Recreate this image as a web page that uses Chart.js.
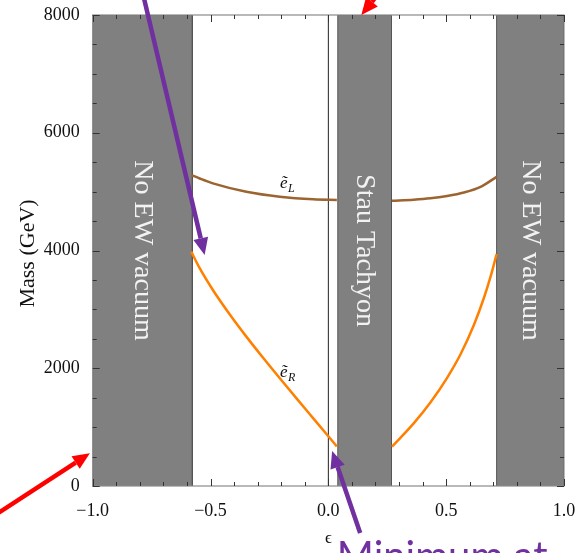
<!DOCTYPE html>
<html>
<head>
<meta charset="utf-8">
<script src="https://cdn.jsdelivr.net/npm/chart.js@4.4.1/dist/chart.umd.min.js"></script>
<style>
  html, body { margin: 0; padding: 0; background: #fff; }
  #wrap { width: 575px; height: 553px; }
</style>
</head>
<body>
<div id="wrap"><canvas id="massChart" width="575" height="553"></canvas></div>
<script>
// tick labels
const epsTicks = [-1, -0.5, 0, 0.5, 1];
const massTicks = [0, 2000, 4000, 6000, 8000];

// selectron masses (GeV) against epsilon, left and right of the tachyon band
const eLLeftEps  = [-0.582, -0.546, -0.49, -0.348, -0.206, -0.064, 0.036];
const eLLeftMass = [5282, 5223, 5141, 4999, 4914, 4869, 4858];
const eLRightEps  = [0.27, 0.362, 0.433, 0.504, 0.575, 0.646, 0.714];
const eLRightMass = [4846, 4863, 4886, 4926, 4985, 5081, 5251];

const eRLeftEps  = [-0.582, -0.546, -0.49, -0.419, -0.348, -0.277, -0.206, -0.135, -0.064, 0, 0.036];
const eRLeftMass = [3980, 3699, 3329, 2917, 2537, 2178, 1830, 1488, 1149, 844, 673];
const eRRightEps  = [0.27, 0.362, 0.433, 0.504, 0.561, 0.618, 0.66, 0.689, 0.714];
const eRRightMass = [668, 1064, 1419, 1838, 2237, 2739, 3193, 3564, 3939];

// excluded bands in epsilon
const bandFrom = [-1, 0.04, 0.714];
const bandTo   = [-0.577, 0.268, 1];
const bandText = ['No EW vacuum', 'Stau Tachyon', 'No EW vacuum'];
const bandTextMass = [4000, 4000, 4000];

// curve labels
const curveLabelEps  = [-0.163, -0.163];
const curveLabelMass = [5150, 1940];
const curveLabelSub  = ['L', 'R'];

// callout arrows [tailEps, tailMass, tipEps, tipMass]
const purpleArrows = [[-0.801, 8600, -0.525, 3925], [0.135, -800, 0.016, 595]];
const redArrows = [[-1.42, -510, -1.012, 556], [0.27, 8650, 0.14, 8000]];
const calloutEps = 0.036, calloutMass = -1427, calloutText = 'Minimum at';

function pts(xs, ys) {
  return xs.map((x, i) => ({ x: x, y: ys[i] }));
}

const curveStyle = { pointRadius: 0, borderWidth: 2.5, fill: false, cubicInterpolationMode: 'monotone' };

let datasets = [
  Object.assign({ data: pts(eLLeftEps, eLLeftMass), borderColor: '#9c6430' }, curveStyle),
  Object.assign({ data: pts(eLRightEps, eLRightMass), borderColor: '#9c6430' }, curveStyle),
  Object.assign({ data: pts(eRLeftEps, eRLeftMass), borderColor: '#ff8000' }, curveStyle),
  Object.assign({ data: pts(eRRightEps, eRRightMass), borderColor: '#ff8000' }, curveStyle),
  { data: [{ x: 0, y: 0 }, { x: 0, y: 8000 }], borderColor: '#222', borderWidth: 1, pointRadius: 0, fill: false }
];
bandFrom.forEach((a, i) => {
  const b = bandTo[i];
  datasets.push({
    data: [{ x: a, y: 0 }, { x: a, y: 8000 }, { x: b, y: 8000 }, { x: b, y: 0 }],
    borderColor: '#555', borderWidth: 1, backgroundColor: '#808080',
    pointRadius: 0, fill: 'origin', tension: 0
  });
});

function arrow(ctx, x0, y0, x1, y1, color, w, hl, hw) {
  const ang = Math.atan2(y1 - y0, x1 - x0);
  const bx = x1 - hl * Math.cos(ang), by = y1 - hl * Math.sin(ang);
  ctx.strokeStyle = color; ctx.fillStyle = color; ctx.lineWidth = w;
  ctx.beginPath(); ctx.moveTo(x0, y0); ctx.lineTo(bx, by); ctx.stroke();
  ctx.beginPath();
  ctx.moveTo(x1, y1);
  ctx.lineTo(bx + hw / 2 * Math.sin(ang), by - hw / 2 * Math.cos(ang));
  ctx.lineTo(bx - hw / 2 * Math.sin(ang), by + hw / 2 * Math.cos(ang));
  ctx.closePath(); ctx.fill();
}

const frameAndText = {
  id: 'frameAndText',
  afterDatasetsDraw(chart) {
    const ctx = chart.ctx, xs = chart.scales.x, ys = chart.scales.y;
    const a = chart.chartArea;
    ctx.save();
    // band captions
    ctx.fillStyle = '#f2f2f2';
    ctx.font = '28px "Liberation Serif", serif';
    ctx.textAlign = 'center'; ctx.textBaseline = 'middle';
    bandText.forEach((t, i) => {
      const cx = xs.getPixelForValue((bandFrom[i] + bandTo[i]) / 2);
      const cy = ys.getPixelForValue(bandTextMass[i]);
      ctx.save(); ctx.translate(cx, cy); ctx.rotate(Math.PI / 2);
      ctx.fillText(t, 0, 0); ctx.restore();
    });
    // curve labels
    ctx.fillStyle = '#111';
    curveLabelEps.forEach((e, i) => {
      const px = xs.getPixelForValue(e), py = ys.getPixelForValue(curveLabelMass[i]);
      ctx.textAlign = 'left'; ctx.textBaseline = 'alphabetic';
      ctx.font = 'italic 17px "Liberation Serif", serif';
      ctx.fillText('\u1EBD', px - 10, py + 5);
      ctx.font = 'italic 12px "Liberation Serif", serif';
      ctx.fillText(curveLabelSub[i], px - 2, py + 9);
    });
    // frame
    ctx.strokeStyle = '#8a8a8a'; ctx.lineWidth = 1.2;
    ctx.strokeRect(a.left, a.top, a.right - a.left, a.bottom - a.top);
    // ticks, pointing inward on all four sides
    ctx.strokeStyle = '#333'; ctx.lineWidth = 1;
    for (let k = -10; k <= 10; k++) {
      const px = Math.round(xs.getPixelForValue(k / 10)) + 0.5;
      const len = k % 5 === 0 ? 7 : 4;
      ctx.beginPath();
      ctx.moveTo(px, a.bottom); ctx.lineTo(px, a.bottom - len);
      ctx.moveTo(px, a.top); ctx.lineTo(px, a.top + len);
      ctx.stroke();
    }
    for (let m = 0; m <= 8000; m += 500) {
      const py = Math.round(ys.getPixelForValue(m)) + 0.5;
      const len = m % 2000 === 0 ? 7 : 4;
      ctx.beginPath();
      ctx.moveTo(a.left, py); ctx.lineTo(a.left + len, py);
      ctx.moveTo(a.right, py); ctx.lineTo(a.right - len, py);
      ctx.stroke();
    }
    ctx.restore();
  },
  afterDraw(chart) {
    const ctx = chart.ctx, xs = chart.scales.x, ys = chart.scales.y;
    ctx.save();
    // axis titles
    ctx.fillStyle = '#111';
    ctx.textAlign = 'center'; ctx.textBaseline = 'middle';
    ctx.font = '22px "Liberation Serif", serif';
    ctx.save(); ctx.translate(28, ys.getPixelForValue(3950)); ctx.rotate(-Math.PI / 2);
    ctx.fillText('Mass (GeV)', 0, 0); ctx.restore();
    ctx.font = '17px "Liberation Serif", serif';
    ctx.fillText('\u03F5', xs.getPixelForValue(0), ys.bottom + 53);
    // callouts
    purpleArrows.forEach(r => arrow(ctx, xs.getPixelForValue(r[0]), ys.getPixelForValue(r[1]),
      xs.getPixelForValue(r[2]), ys.getPixelForValue(r[3]), '#7030a0', 4.5, 17, 15));
    redArrows.forEach(r => arrow(ctx, xs.getPixelForValue(r[0]), ys.getPixelForValue(r[1]),
      xs.getPixelForValue(r[2]), ys.getPixelForValue(r[3]), '#ff0000', 4.5, 17, 15));
    ctx.fillStyle = '#7030a0';
    ctx.textAlign = 'left'; ctx.textBaseline = 'alphabetic';
    ctx.font = '40px Lato, "Open Sans", sans-serif';
    ctx.fillText(calloutText, xs.getPixelForValue(calloutEps), ys.getPixelForValue(calloutMass));
    ctx.restore();
  }
};

const fmtEps = v => {
  if (!epsTicks.includes(v)) return '';
  const s = Math.abs(v).toFixed(1);
  return v < 0 ? '\u2212' + s : s;
};
const fmtMass = v => massTicks.includes(v) ? String(v) : '';

new Chart(document.getElementById('massChart'), {
  type: 'line',
  data: { datasets: datasets },
  options: {
    responsive: false,
    animation: false,
    layout: { padding: { left: 0, right: 11, top: 15, bottom: 0 } },
    plugins: { legend: { display: false }, tooltip: { enabled: false } },
    scales: {
      x: {
        type: 'linear', min: -1, max: 1,
        grid: { display: false }, border: { display: false },
        ticks: { stepSize: 0.5, callback: fmtEps, maxRotation: 0, padding: 6,
                 color: '#111', font: { family: '"Liberation Serif", serif', size: 18 } },
        afterFit: s => { s.height = 67; s.paddingLeft = 0; s.paddingRight = 0; }
      },
      y: {
        type: 'linear', min: 0, max: 8000,
        grid: { display: false }, border: { display: false },
        ticks: { stepSize: 2000, callback: fmtMass, padding: 5,
                 color: '#111', font: { family: '"Liberation Serif", serif', size: 18 } },
        afterFit: s => { s.width = 92.7; s.paddingTop = 0; s.paddingBottom = 0; }
      }
    }
  },
  plugins: [frameAndText]
});
</script>
</body>
</html>
